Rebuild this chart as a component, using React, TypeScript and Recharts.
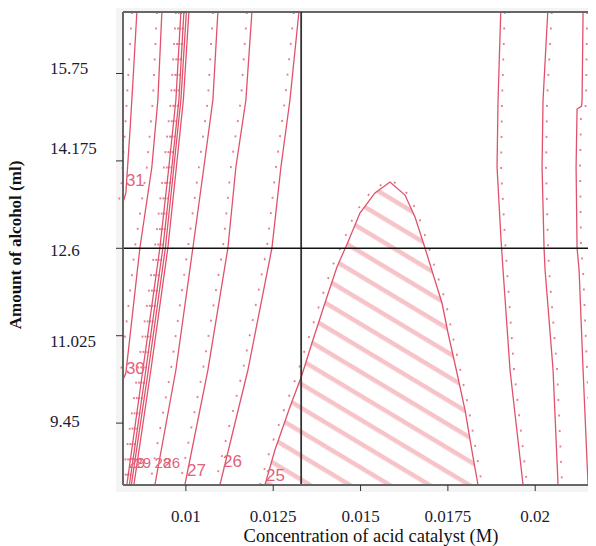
import React from "react";
import {
  Area,
  CartesianGrid,
  ComposedChart,
  Label,
  Line,
  ReferenceLine,
  Scatter,
  XAxis,
  YAxis,
} from "recharts";

// axis ranges
const X_MIN = 0.0082;
const X_MAX = 0.02174;
const Y_MIN = 8.335;
const Y_MAX = 16.858;

const xTicks = [0.01, 0.0125, 0.015, 0.0175, 0.02];
const yTicks = [9.45, 11.025, 12.6, 14.175, 15.75];

const crossX = 0.0133;
const crossY = 12.6;

// contour lines, [concentration, alcohol]
const line31 = [[0.008597, 16.858], [0.008482, 15.579], [0.008396, 14.678], [0.008282, 13.597], [0.008225, 13.47]];
const line30 = [[0.009313, 16.858], [0.009198, 15.272], [0.009026, 14.065], [0.008683, 12.605], [0.008282, 10.353], [0.008224, 10.263]];
const line29a = [[0.009857, 16.858], [0.009714, 15.272], [0.009513, 14.065], [0.009255, 12.605], [0.008768, 10.407], [0.00831, 8.335]];
const line29b = [[0.009943, 16.858], [0.0098, 15.272], [0.009599, 14.065], [0.009341, 12.605], [0.008854, 10.407], [0.008382, 8.335]];
const line28a = [[0.010014, 16.858], [0.009857, 15.272], [0.009656, 14.065], [0.009413, 12.605], [0.008926, 10.407], [0.008439, 8.335]];
const line28b = [[0.010086, 16.858], [0.009928, 15.272], [0.009728, 14.065], [0.009484, 12.605], [0.008998, 10.407], [0.008511, 8.335]];
const line28c = [[0.010916, 16.858], [0.010773, 15.272], [0.010516, 14.065], [0.0102, 12.605], [0.009714, 10.407], [0.009112, 8.335]];
const line27 = [[0.01189, 16.858], [0.011718, 15.272], [0.011432, 14.065], [0.011203, 12.605], [0.01063, 10.407], [0.009971, 8.335]];
const line26 = [[0.013236, 16.858], [0.012979, 15.272], [0.012721, 14.065], [0.012463, 12.605], [0.011776, 10.407], [0.010974, 8.335]];

const right1 = [[0.019013, 16.858], [0.018936, 15.272], [0.018907, 14.065], [0.019022, 12.75], [0.019079, 12.209], [0.019279, 10.407], [0.019652, 8.335]];
const right2 = [[0.020359, 16.858], [0.020224, 15.272], [0.020196, 14.065], [0.020253, 12.605], [0.020282, 12.209], [0.020511, 10.407], [0.020654, 8.335]];
const right3 = [[0.02137, 16.858], [0.021341, 15.272], [0.021327, 15.164], [0.021198, 15.11], [0.02117, 14.065], [0.021198, 12.605], [0.021256, 12.209], [0.02137, 10.407], [0.021513, 8.335]];

// closed 25 contour (hatched region)
const contour25 = [
  [0.012263, 8.335], [0.012549, 8.965], [0.012979, 9.74], [0.013322, 10.317], [0.013609, 10.894],
  [0.013981, 11.614], [0.014325, 12.263], [0.01464, 12.714], [0.014983, 13.236], [0.015413, 13.597],
  [0.015843, 13.795], [0.016272, 13.56], [0.016559, 13.164], [0.016845, 12.605], [0.017189, 11.903],
  [0.017332, 11.614], [0.017504, 11.074], [0.017761, 10.353], [0.017991, 9.686], [0.01822, 8.839],
  [0.018363, 8.335],
];
const PEAK = 10;

const contourLabels = [
  { x: 0.008554, y: 13.831, text: "31", small: false },
  { x: 0.008554, y: 10.434, text: "30", small: false },
  { x: 0.008597, y: 8.731, text: "29", small: true },
  { x: 0.008768, y: 8.731, text: "29", small: true },
  { x: 0.009341, y: 8.731, text: "28", small: true },
  { x: 0.009599, y: 8.731, text: "26", small: true },
  { x: 0.010301, y: 8.605, text: "27", small: false },
  { x: 0.011332, y: 8.758, text: "26", small: false },
  { x: 0.012563, y: 8.515, text: "25", small: false },
];

const leftLines = [line31, line30, line29a, line29b, line28a, line28b, line28c, line27, line26];
const rightLines = [right1, right2, right3];

const pts = (arr: number[][]) => arr.map(([x, y]) => ({ x, y }));

const RED = "#e0526b";
const DOTS = "#e77d8e";
const serif = "'Liberation Serif', 'Times New Roman', serif";

const yNudge: Record<string, number> = { "15.75": -5.5, "14.175": -13, "12.6": 2, "11.025": 5, "9.45": -2 };

const YTick = (props: any) => {
  const { y, payload } = props;
  return (
    <text x={50} y={y + (yNudge[String(payload.value)] ?? 0)} dy="0.35em" textAnchor="start" fontSize={17} fontFamily={serif} fill="#1b1b33">
      {payload.value}
    </text>
  );
};

const LabelShape = (props: any) => (
  <text
    x={props.cx}
    y={props.cy}
    dy="0.35em"
    textAnchor="middle"
    fontSize={props.payload.small ? 15 : 17}
    fontFamily="'Liberation Sans', Arial, sans-serif"
    fill="#e3637d"
  >
    {props.payload.text}
  </text>
);

const dotted = { stroke: DOTS, strokeWidth: 1.8, strokeDasharray: "2 13.5", dot: false, isAnimationActive: false } as const;
const solid = { stroke: RED, strokeWidth: 1.3, dot: false, isAnimationActive: false } as const;

export default function App() {
  return (
    <div style={{ width: 580, height: 538, position: "relative" }}>
      <style>{`html,body{overflow:hidden} .dots-left{transform:translateX(-5px)} .dots-right{transform:translateX(4px)}`}</style>
      <div style={{ position: "absolute", left: 108, top: -8, width: 480, height: 492, background: "#f4f4f4" }} />
      <div style={{ position: "absolute", left: -8, top: -8 }}>
        <ComposedChart width={596} height={546} margin={{ top: 12, right: 0, left: 0, bottom: 5 }}>
          <defs>
            <pattern id="hatch" patternUnits="userSpaceOnUse" width="20" height="20.5" patternTransform="rotate(31)">
              <line x1="0" y1="10" x2="20" y2="10" stroke="#f5c3c8" strokeWidth="4.5" />
            </pattern>
          </defs>
          <CartesianGrid horizontal={false} vertical={false} fill="#fff" />
          <XAxis
            type="number"
            dataKey="x"
            domain={[X_MIN, X_MAX]}
            ticks={xTicks}
            allowDataOverflow
            height={56}
            tickSize={6}
            tickMargin={19}
            axisLine={{ stroke: "#666", strokeWidth: 2 }}
            tickLine={{ stroke: "#333" }}
            tick={{ fontSize: 17, fontFamily: serif, fill: "#1b1b33" }}
            label={
              <Label
                content={() => (
                  <text x={371} y={542} textAnchor="middle" fontSize={18.5} fontFamily={serif} fill="#111">
                    Concentration of acid catalyst (M)
                  </text>
                )}
              />
            }
          />
          <YAxis
            type="number"
            dataKey="y"
            domain={[Y_MIN, Y_MAX]}
            ticks={yTicks}
            allowDataOverflow
            width={123}
            tickSize={7}
            axisLine={{ stroke: "#666", strokeWidth: 2 }}
            tickLine={{ stroke: "#333" }}
            tick={<YTick />}
            label={
              <Label
                content={() => (
                  <text x={15} y={245} transform="rotate(-90, 15, 245)" textAnchor="middle" dy="0.35em" fontSize={17} fontWeight="bold" fontFamily={serif} fill="#111">
                    Amount of alcohol (ml)
                  </text>
                )}
              />
            }
          />
          <Area
            data={pts(contour25)}
            dataKey="y"
            type="linear"
            baseValue={Y_MIN}
            fill="url(#hatch)"
            fillOpacity={1}
            stroke={RED}
            strokeWidth={1.3}
            isAnimationActive={false}
          />
          <Line data={pts(contour25.slice(0, PEAK + 1))} dataKey="y" type="linear" className="dots-left" {...dotted} />
          <Line data={pts(contour25.slice(PEAK))} dataKey="y" type="linear" className="dots-right" {...dotted} />
          {leftLines.map((d, i) => (
            <Line key={"ld" + i} data={pts(d)} dataKey="y" type="linear" className="dots-left" {...dotted} />
          ))}
          {rightLines.map((d, i) => (
            <Line key={"rd" + i} data={pts(d)} dataKey="y" type="linear" className="dots-right" {...dotted} />
          ))}
          {leftLines.concat(rightLines).map((d, i) => (
            <Line key={"s" + i} data={pts(d)} dataKey="y" type="linear" {...solid} />
          ))}
          <ReferenceLine y={Y_MAX} stroke="#666" strokeWidth={2} />
          <ReferenceLine x={crossX} stroke="#333" strokeWidth={1.8} />
          <ReferenceLine y={crossY} stroke="#111" strokeWidth={1.5} />
          <Scatter data={contourLabels} dataKey="y" shape={<LabelShape />} isAnimationActive={false} />
        </ComposedChart>
      </div>
    </div>
  );
}
